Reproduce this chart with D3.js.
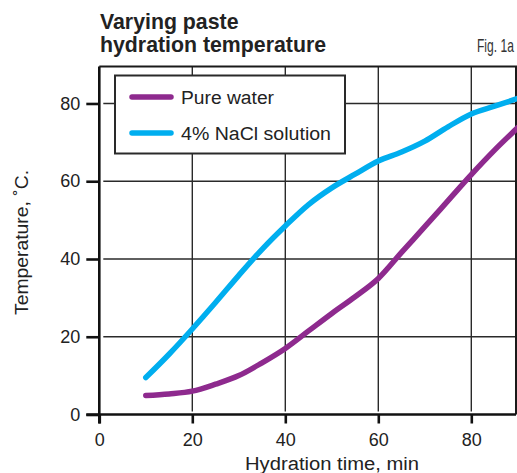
<!DOCTYPE html>
<html>
<head>
<meta charset="utf-8">
<script src="https://cdn.jsdelivr.net/npm/d3@7"></script>
<style>
  html, body { margin: 0; padding: 0; background: #fff; }
  svg { display: block; font-family: "Liberation Sans", Arial, sans-serif; }
</style>
</head>
<body>
<svg id="chart" width="517" height="473"></svg>
<script>
// ---- data ----
const timeWater = [10, 15, 20, 25, 30, 35, 40, 45, 50, 55, 60, 65, 70, 75, 80, 85, 90];
const pureWater = [4.9, 5.3, 6.0, 7.8, 10.0, 13.3, 17.0, 21.5, 26.0, 30.3, 35.0, 41.7, 48.3, 55.0, 61.7, 68.0, 73.8];
const timeNaCl = [10, 15, 20, 25, 30, 35, 40, 45, 50, 55, 60, 65, 70, 75, 80, 85, 90];
const naclSolution = [9.5, 15.5, 22.0, 28.8, 35.8, 42.5, 48.5, 54.0, 58.3, 61.8, 65.2, 67.5, 70.3, 74.0, 77.3, 79.3, 81.3];
const xTicks = [0, 20, 40, 60, 80];
const yTicks = [0, 20, 40, 60, 80];
const seriesNames = ["Pure water", "4% NaCl solution"];
const seriesColors = ["#8E2A8E", "#00AEEF"];

const svg = d3.select("#chart");
const x = d3.scaleLinear().domain([0, 90]).range([99.3, 517.8]);
const y = d3.scaleLinear().domain([0, 90]).range([414.5, 64.6]);
const pL = 99.3, pR = 516, pT = 66.5, pB = 414.5;

// gridlines
const grid = svg.append("g").attr("stroke", "#2a2a2a").attr("stroke-width", 1.4);
grid.selectAll("line.v").data(xTicks.filter(d => d > 0)).join("line").attr("class", "v")
  .attr("x1", d => x(d)).attr("x2", d => x(d))
  .attr("y1", pT).attr("y2", pB - 3);
grid.selectAll("line.h").data(yTicks.filter(d => d > 0)).join("line").attr("class", "h")
  .attr("y1", d => y(d)).attr("y2", d => y(d))
  .attr("x1", pL + 4).attr("x2", pR);

// frame top and right
svg.append("line").attr("x1", pL).attr("x2", pR + 1).attr("y1", pT).attr("y2", pT)
  .attr("stroke", "#1a1a1a").attr("stroke-width", 2);
svg.append("line").attr("x1", pR).attr("x2", pR).attr("y1", pT).attr("y2", pB)
  .attr("stroke", "#1a1a1a").attr("stroke-width", 2);

// axes
const xAxis = svg.append("g").attr("transform", `translate(0,${pB})`)
  .call(d3.axisBottom(x).tickValues(xTicks).tickSize(9).tickPadding(10).tickFormat(d3.format("d")));
xAxis.select(".domain").attr("d", `M${pL - 13},0H${pR}`).attr("stroke", "#111").attr("stroke-width", 2.6);
xAxis.selectAll(".tick line").attr("stroke", "#111").attr("stroke-width", 2.6);
xAxis.selectAll(".tick text").attr("font-size", 18).attr("fill", "#222")
  .attr("font-family", "Liberation Sans, Arial, sans-serif");

const yAxis = svg.append("g").attr("transform", `translate(${pL},0)`)
  .call(d3.axisLeft(y).tickValues(yTicks).tickSize(13).tickPadding(6).tickFormat(d3.format("d")));
yAxis.select(".domain").attr("d", `M0,${pT}V${pB + 9}`).attr("stroke", "#111").attr("stroke-width", 2.6);
yAxis.selectAll(".tick line").attr("stroke", "#111").attr("stroke-width", 2.6);
yAxis.selectAll(".tick text").attr("font-size", 18).attr("fill", "#222")
  .attr("font-family", "Liberation Sans, Arial, sans-serif");

// lines
const line = d3.line().curve(d3.curveMonotoneX);
const series = [
  { name: seriesNames[0], color: seriesColors[0], pts: timeWater.map((t, i) => [x(t), y(pureWater[i])]) },
  { name: seriesNames[1], color: seriesColors[1], pts: timeNaCl.map((t, i) => [x(t), y(naclSolution[i])]) }
];
svg.append("defs").append("clipPath").attr("id", "clip")
  .append("rect").attr("x", pL).attr("y", pT).attr("width", pR - pL + 2).attr("height", pB - pT);
svg.append("g").attr("clip-path", "url(#clip)").selectAll("path").data(series).join("path")
  .attr("d", d => line(d.pts)).attr("fill", "none")
  .attr("stroke", d => d.color).attr("stroke-width", 5.5).attr("stroke-linecap", "round");

// legend
const legendTextWidths = [93, 150];
const lg = svg.append("g");
lg.append("rect").attr("x", 115).attr("y", 75.5).attr("width", 230).attr("height", 78)
  .attr("fill", "#fff").attr("stroke", "#2a2a2a").attr("stroke-width", 2);
const items = lg.selectAll("g.item").data(series).join("g").attr("class", "item")
  .attr("transform", (d, i) => `translate(0,${97 + i * 36})`);
items.append("line").attr("x1", 132).attr("x2", 171).attr("y1", 0).attr("y2", 0)
  .attr("stroke", d => d.color).attr("stroke-width", 5.5).attr("stroke-linecap", "round");
items.append("text").attr("x", 181).attr("y", 6.5).attr("font-size", 18).attr("fill", "#222")
  .attr("textLength", (d, i) => legendTextWidths[i]).attr("lengthAdjust", "spacingAndGlyphs")
  .text(d => d.name);

// titles
svg.append("text").attr("x", 100).attr("y", 29).attr("font-size", 21.3).attr("font-weight", "bold")
  .attr("fill", "#222").text("Varying paste");
svg.append("text").attr("x", 100).attr("y", 52).attr("font-size", 21.3).attr("font-weight", "bold")
  .attr("fill", "#222").text("hydration temperature");
svg.append("text").attr("transform", "translate(477,52) scale(0.69,1)").attr("font-size", 17.5)
  .attr("fill", "#333").text("Fig. 1a");

// axis labels
svg.append("text").attr("x", 245).attr("y", 470).attr("font-size", 18)
  .attr("fill", "#222").attr("textLength", 174).attr("lengthAdjust", "spacingAndGlyphs")
  .text("Hydration time, min");
svg.append("text").attr("transform", "translate(28,315) rotate(-90)")
  .attr("font-size", 18).attr("fill", "#222")
  .attr("textLength", 145).attr("lengthAdjust", "spacingAndGlyphs").text("Temperature, ˚C.");
</script>
</body>
</html>
